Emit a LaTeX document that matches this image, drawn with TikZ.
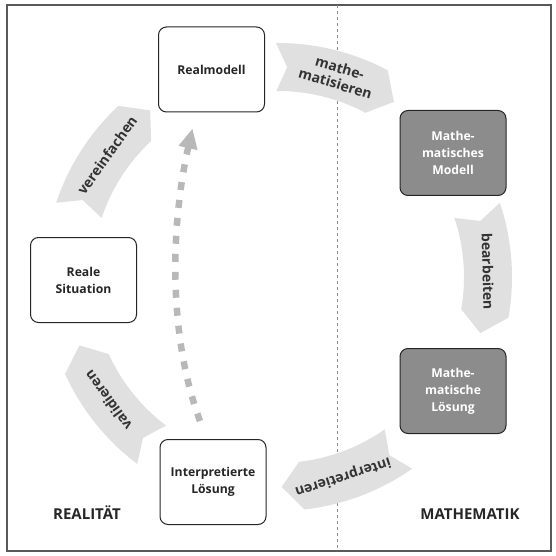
\documentclass[tikz,border=0pt]{standalone}
\usepackage{fontspec}
\setmainfont{Open Sans}
\usetikzlibrary{arrows.meta}

\newcommand{\boxfont}{\bfseries\fontsize{12.2}{17}\selectfont}
\newcommand{\ribbonfont}{\bfseries\fontsize{14}{16}\selectfont}
\tikzset{
  box/.style={draw=black!85,line width=1pt,rounded corners=8pt,fill=white,
    minimum width=106pt,minimum height=85pt,align=center,font=\boxfont,text=black!85},
  mbox/.style={box,fill=black!45,text=white},
  ribbon/.style={fill=black!12},
  ribbontext/.style={align=center,font=\ribbonfont,text=black!80},
  side/.style={font=\bfseries\fontsize{15}{18}\selectfont,text=black!85,anchor=base},
  dasharrow/.style={draw=black!28,line width=6.5pt,dash pattern=on 8pt off 10pt,
    -{Triangle[length=20pt,width=18pt]}}
}

\begin{document}
\begin{tikzpicture}[x=1pt,y=1pt]
    \useasboundingbox (0,0) rectangle (556,555);
    \draw[black!65,line width=1.5pt] (7,4) rectangle (551,550);
    \draw[black!45,dash pattern=on 3pt off 3pt] (337,550) -- (337,4);

    \begin{scope}[shift={(278,278)}]
      \foreach \a/\txt [count=\i] in {73.5/{mathe-\\matisieren},1.5/bearbeiten,
          288/interpretieren,216/validieren,144.5/vereinfachen}{
        \fill[ribbon] (\a+17:234pt) arc[start angle=\a+17,end angle=\a-11.5,radius=234pt]
          -- (\a-17:210pt) -- (\a-11.5:186pt)
          arc[start angle=\a-11.5,end angle=\a+17,radius=186pt]
          -- (\a+14:210pt) -- cycle;
        \node[ribbontext,rotate=\a-90] (step\i) at (\a:210pt) {\txt};
      }
    \end{scope}

    \node[box] (realmodell) at (211.5,485.5) {Realmodell};
    \node[box] (situation) at (83.5,275) {Reale\\Situation};
    \node[box] (interp) at (213,73) {Interpretierte\\Lösung};
    \node[mbox] (mmodell) at (453,402) {Mathe-\\matisches\\Modell};
    \node[mbox] (mloesung) at (453,164) {Mathe-\\matische\\Lösung};

    \draw[dasharrow] ([xshift=-13pt,yshift=18pt]interp.north)
      .. controls +(-32,86) and +(-22,-97) .. ([xshift=-19pt,yshift=-16pt]realmodell.south);

    \node[side] (realitaet) at (87,36) {REALITÄT};
    \node[side] (mathematik) at (470,36) {MATHEMATIK};
  \end{tikzpicture}
\end{document}
